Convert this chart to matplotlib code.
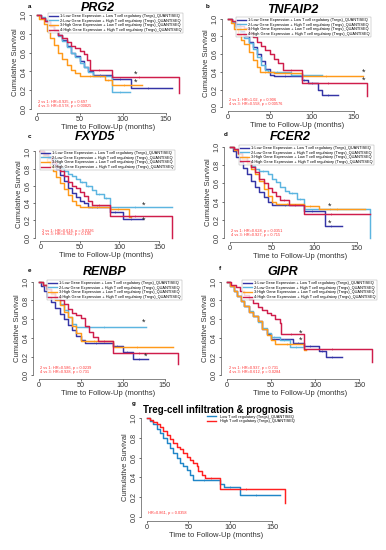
import numpy as np
import matplotlib
matplotlib.use('Agg')
import matplotlib.pyplot as plt
from matplotlib.lines import Line2D

plt.rcParams['font.family'] = ['Liberation Sans', 'DejaVu Sans']

## colours of the 4 groups (KM plot style)
cols = ['#3434a6', '#5cb5e0', '#ff9a1a', '#cf1d4b']
labels4 = ['1:Low Gene Expression + Low T cell regulatory (Tregs)_QUANTISEQ',
           '2:Low Gene Expression + High T cell regulatory (Tregs)_QUANTISEQ',
           '3:High Gene Expression + Low T cell regulatory (Tregs)_QUANTISEQ',
           '4:High Gene Expression + High T cell regulatory (Tregs)_QUANTISEQ']

## panel a: PRG2
a1_t = [0,5,10,15,20,25,30,35,40,45,50,55,60,65,88,110,158]
a1_s = [1,0.97,0.93,0.88,0.84,0.79,0.73,0.67,0.6,0.56,0.51,0.45,0.4,0.36,0.32,0.22,0.22]
a2_t = [0,5,10,15,20,25,30,35,40,45,50,55,60,65,88,109]
a2_s = [1,0.98,0.94,0.89,0.84,0.78,0.72,0.66,0.6,0.55,0.49,0.45,0.39,0.35,0.18,0.18]
a3_t = [0,3,8,12,16,20,25,30,35,40,45,50,80,88,123]
a3_s = [1,0.96,0.9,0.83,0.75,0.68,0.6,0.53,0.47,0.42,0.38,0.35,0.31,0.26,0.26]
a4_t = [0,5,10,15,20,25,30,35,40,45,50,55,58,62,88,166]
a4_s = [1,0.97,0.93,0.88,0.84,0.79,0.75,0.71,0.67,0.65,0.62,0.58,0.52,0.42,0.34,0.17]

## panel b: TNFAIP2
b1_t = [0,5,10,15,20,25,30,35,40,45,50,55,88,96,107,112,131]
b1_s = [1,0.96,0.92,0.86,0.8,0.74,0.68,0.6,0.52,0.43,0.37,0.35,0.31,0.27,0.2,0.14,0.14]
b2_t = [0,5,10,15,20,25,30,35,40,44,48,75,112]
b2_s = [1,0.96,0.91,0.85,0.78,0.72,0.66,0.57,0.48,0.42,0.4,0.37,0.37]
b3_t = [0,4,8,12,16,20,25,30,35,38,55,88,161]
b3_s = [1,0.95,0.88,0.82,0.76,0.71,0.62,0.53,0.45,0.4,0.39,0.35,0.35]
b4_t = [0,5,10,15,20,25,30,35,40,45,50,55,60,66,88,166]
b4_s = [1,0.97,0.94,0.92,0.89,0.84,0.79,0.74,0.69,0.65,0.6,0.55,0.5,0.42,0.27,0.13]

## panel c: FXYD5
c1_t = [0,5,10,15,20,25,30,35,40,45,50,55,60,88,105,130]
c1_s = [1,0.96,0.92,0.86,0.8,0.73,0.66,0.58,0.52,0.47,0.43,0.4,0.36,0.3,0.22,0.22]
c2_t = [0,5,10,15,20,25,30,35,40,45,50,58,65,70,80,88,166]
c2_s = [1,0.98,0.95,0.91,0.86,0.81,0.77,0.74,0.71,0.68,0.65,0.6,0.55,0.51,0.46,0.35,0.35]
c3_t = [0,4,8,12,16,20,25,30,35,40,45,50,88,112,115]
c3_s = [1,0.95,0.89,0.83,0.77,0.7,0.63,0.56,0.49,0.43,0.38,0.35,0.33,0.24,0.24]
c4_t = [0,5,10,15,20,25,30,35,40,45,50,55,60,65,88,166]
c4_s = [1,0.97,0.93,0.88,0.83,0.77,0.71,0.64,0.6,0.57,0.53,0.48,0.43,0.38,0.25,0.0]

## panel d: FCER2
d1_t = [0,4,8,12,16,20,25,30,35,40,45,50,88,112,132]
d1_s = [1,0.95,0.89,0.83,0.77,0.7,0.63,0.56,0.5,0.45,0.4,0.36,0.3,0.13,0.13]
d2_t = [0,5,10,15,20,25,30,35,45,50,55,60,65,70,80,88,165]
d2_s = [1,0.97,0.93,0.89,0.84,0.79,0.76,0.73,0.7,0.65,0.61,0.56,0.52,0.49,0.43,0.32,0.0]
d3_t = [0,5,10,15,20,25,30,35,40,45,50,55,88,105,160]
d3_s = [1,0.96,0.92,0.87,0.82,0.76,0.7,0.63,0.54,0.46,0.4,0.37,0.35,0.32,0.32]
d4_t = [0,5,10,15,20,25,30,35,40,45,50,55,60,70,88,166]
d4_s = [1,0.97,0.93,0.89,0.84,0.78,0.72,0.65,0.6,0.55,0.5,0.46,0.42,0.36,0.26,0.26]

## panel e: RENBP
e1_t = [0,3,6,10,15,20,25,30,35,40,45,50,55,88,100,112,130]
e1_s = [1,0.95,0.9,0.84,0.78,0.72,0.66,0.6,0.54,0.48,0.42,0.38,0.35,0.31,0.25,0.17,0.17]
e2_t = [0,5,10,15,20,25,30,35,40,45,128]
e2_s = [1,0.97,0.92,0.87,0.82,0.76,0.7,0.62,0.55,0.52,0.52]
e3_t = [0,5,10,15,20,25,30,35,40,45,50,88,160]
e3_s = [1,0.96,0.92,0.87,0.81,0.75,0.68,0.62,0.53,0.45,0.37,0.3,0.3]
e4_t = [0,5,10,15,20,25,30,35,40,45,50,55,60,65,70,88,165]
e4_s = [1,0.96,0.92,0.88,0.84,0.8,0.76,0.71,0.67,0.64,0.61,0.53,0.46,0.41,0.37,0.24,0.12]

## panel f: GIPR
f1_t = [0,4,8,12,16,20,25,30,35,40,45,50,75,88,105,112,131]
f1_s = [1,0.95,0.9,0.85,0.79,0.74,0.68,0.63,0.58,0.5,0.44,0.39,0.34,0.31,0.26,0.2,0.2]
f2_t = [0,4,8,12,16,20,25,30,35,40,45,50,60,72,88]
f2_s = [1,0.95,0.9,0.85,0.79,0.74,0.69,0.63,0.57,0.51,0.45,0.41,0.38,0.3,0.3]
f3_t = [0,4,8,12,16,20,25,30,35,40,45,50,55,88,90]
f3_s = [1,0.95,0.9,0.85,0.79,0.74,0.68,0.63,0.58,0.5,0.43,0.38,0.33,0.27,0.27]
f4_t = [0,5,10,15,20,25,30,35,40,45,50,55,60,62,88,165]
f4_s = [1,0.97,0.94,0.9,0.86,0.82,0.77,0.73,0.7,0.67,0.64,0.6,0.56,0.44,0.28,0.14]

## panel g: Treg infiltration
g_low_t = [0,4,8,12,16,20,24,28,32,36,40,44,48,52,56,88,92,112,160]
g_low_s = [1,0.97,0.94,0.89,0.85,0.8,0.75,0.7,0.65,0.6,0.55,0.52,0.47,0.42,0.37,0.33,0.3,0.22,0.22]
g_high_t = [0,4,8,12,16,20,24,28,32,36,40,44,48,52,56,60,62,66,70,88,166]
g_high_s = [1,0.98,0.96,0.94,0.91,0.87,0.83,0.79,0.75,0.71,0.69,0.65,0.61,0.58,0.55,0.52,0.46,0.42,0.39,0.28,0.14]

titles = ['PRG2', 'TNFAIP2', 'FXYD5', 'FCER2', 'RENBP', 'GIPR']
letters = ['a', 'b', 'c', 'd', 'e', 'f']
hr_text = [['2 vs 1: HR=0.925, p = 0.697', '4 vs 3: HR=0.578, p = 0.00825'],
           ['2 vs 1: HR=1.02, p = 0.906', '4 vs 3: HR=0.558, p = 0.00576'],
           ['2 vs 1: HR=0.616, p = 0.0326', '4 vs 3: HR=0.782, p = 0.195'],
           ['2 vs 1: HR=0.628, p = 0.0351', '4 vs 3: HR=0.927, p = 0.715'],
           ['2 vs 1: HR=0.586, p = 0.0239', '4 vs 3: HR=0.928, p = 0.731'],
           ['2 vs 1: HR=0.937, p = 0.731', '4 vs 3: HR=0.612, p = 0.0284']]
stars = [[(115, 0.37), (115, 0.29)], [(161, 0.40), (161, 0.31)],
         [(130, 0.38), (130, 0.20)], [(118, 0.35), (118, 0.17)],
         [(125, 0.57), (127, 0.20)], [(84, 0.45), (84, 0.37)]]

curves = [[(a1_t, a1_s), (a2_t, a2_s), (a3_t, a3_s), (a4_t, a4_s)],
          [(b1_t, b1_s), (b2_t, b2_s), (b3_t, b3_s), (b4_t, b4_s)],
          [(c1_t, c1_s), (c2_t, c2_s), (c3_t, c3_s), (c4_t, c4_s)],
          [(d1_t, d1_s), (d2_t, d2_s), (d3_t, d3_s), (d4_t, d4_s)],
          [(e1_t, e1_s), (e2_t, e2_s), (e3_t, e3_s), (e4_t, e4_s)],
          [(f1_t, f1_s), (f2_t, f2_s), (f3_t, f3_s), (f4_t, f4_s)]]

# plot regions in pixels: left, top, right, bottom
boxes = [(31, 11, 185, 113), (222, 15, 373, 111),
         (35, 148, 177, 241), (224, 143, 376, 242),
         (33, 278, 184, 379), (221, 278, 379, 379)]
gbox = (141, 414, 291, 521)
# title centres and panel letters (pixels)
title_xy = [(98, 8), (293, 10), (95, 137), (290, 137), (105, 272), (283, 272)]
letter_xy = [(30, 6), (208, 6), (30, 136), (226, 134), (30, 270), (220, 268)]

W, H = 386, 550
fig = plt.figure(figsize=(W/100, H/100), dpi=100)


def make_ax(box):
    l, t, r, b = box
    ax = fig.add_axes([l/W, 1-b/H, (r-l)/W, (b-t)/H])
    ax.set_xlim(-6.64, 172.64)
    ax.set_ylim(-0.04, 1.04)
    for s in ['top', 'right']:
        ax.spines[s].set_visible(False)
    ax.spines['left'].set_bounds(0, 1)
    ax.spines['bottom'].set_bounds(0, 150)
    for s in ['left', 'bottom']:
        ax.spines[s].set_linewidth(0.5)
        ax.spines[s].set_color('#555555')
    ax.set_xticks([0, 50, 100, 150])
    ax.set_yticks([0, 0.2, 0.4, 0.6, 0.8, 1.0])
    ax.set_yticklabels(['0.0', '0.2', '0.4', '0.6', '0.8', '1.0'], rotation=90, va='center')
    ax.tick_params(labelsize=5.2, length=1.5, width=0.5, pad=0.8, colors='#333333')
    ax.set_xlabel('Time to Follow-Up (months)', fontsize=5.5, labelpad=0.8, color='#333333')
    ax.set_ylabel('Cumulative Survival', fontsize=5.5, labelpad=1.5, color='#333333')
    ax.patch.set_alpha(0)
    return ax


def px(x, y):
    return x / W, 1 - y / H


def km(ax, t, s, c):
    ax.step(t, s, where='post', color=c, lw=1.05)
    # censor ticks on the flat parts
    for i in range(1, len(t) - 1):
        if t[i+1] - t[i] > 6:
            ax.plot([t[i] + (t[i+1]-t[i])*0.4], [s[i]], marker='+', ms=2, mew=0.4, color=c)


for k in range(6):
    ax = make_ax(boxes[k])
    for j, (t, s) in enumerate(curves[k]):
        km(ax, t, s, cols[j])
    handles = [Line2D([], [], color=cols[j], lw=1.0) for j in range(4)]
    leg = ax.legend(handles, labels4, loc='upper right', fontsize=2.8, frameon=True,
                    handlelength=2.5, borderpad=0.3, labelspacing=0.15,
                    handletextpad=0.5, bbox_to_anchor=(1.0, 1.0), fancybox=False)
    leg.get_frame().set_linewidth(0.3)
    leg.get_frame().set_edgecolor('#888888')
    ax.text(2, 0.07, hr_text[k][0], fontsize=2.8, color='#ff3030')
    ax.text(2, 0.025, hr_text[k][1], fontsize=2.8, color='#ff3030')
    for (x, y) in stars[k]:
        ax.text(x, y, '*', fontsize=6.5, ha='center', va='center', color='#222222')
    fig.text(*px(*title_xy[k]), titles[k], fontsize=9, fontweight='bold', style='italic',
             ha='center', va='center')
    fig.text(*px(*letter_xy[k]), letters[k], fontsize=4.5, fontweight='bold',
             ha='center', va='center')

# panel g
ax = make_ax(gbox)
km(ax, g_low_t, g_low_s, '#1f86c8')
km(ax, g_high_t, g_high_s, '#ff2020')
handles = [Line2D([], [], color='#1f86c8', lw=1.0), Line2D([], [], color='#ff2020', lw=1.0)]
leg = ax.legend(handles, ['Low T cell regulatory (Tregs)_QUANTISEQ',
                          'High T cell regulatory (Tregs)_QUANTISEQ'],
                loc='upper right', fontsize=2.8, frameon=False, handlelength=2.5,
                borderpad=0.2, labelspacing=0.2, bbox_to_anchor=(1.04, 1.02))
ax.text(2, 0.03, 'HR=0.861, p = 0.0358', fontsize=2.8, color='#ff3030')
fig.text(*px(218, 410), 'Treg-cell infiltration & prognosis', fontsize=7,
         fontweight='bold', ha='center', va='center')
fig.text(*px(134, 404), 'g', fontsize=4.5, fontweight='bold', ha='center', va='center')

fig.savefig('out.png', dpi=100, facecolor='white')
